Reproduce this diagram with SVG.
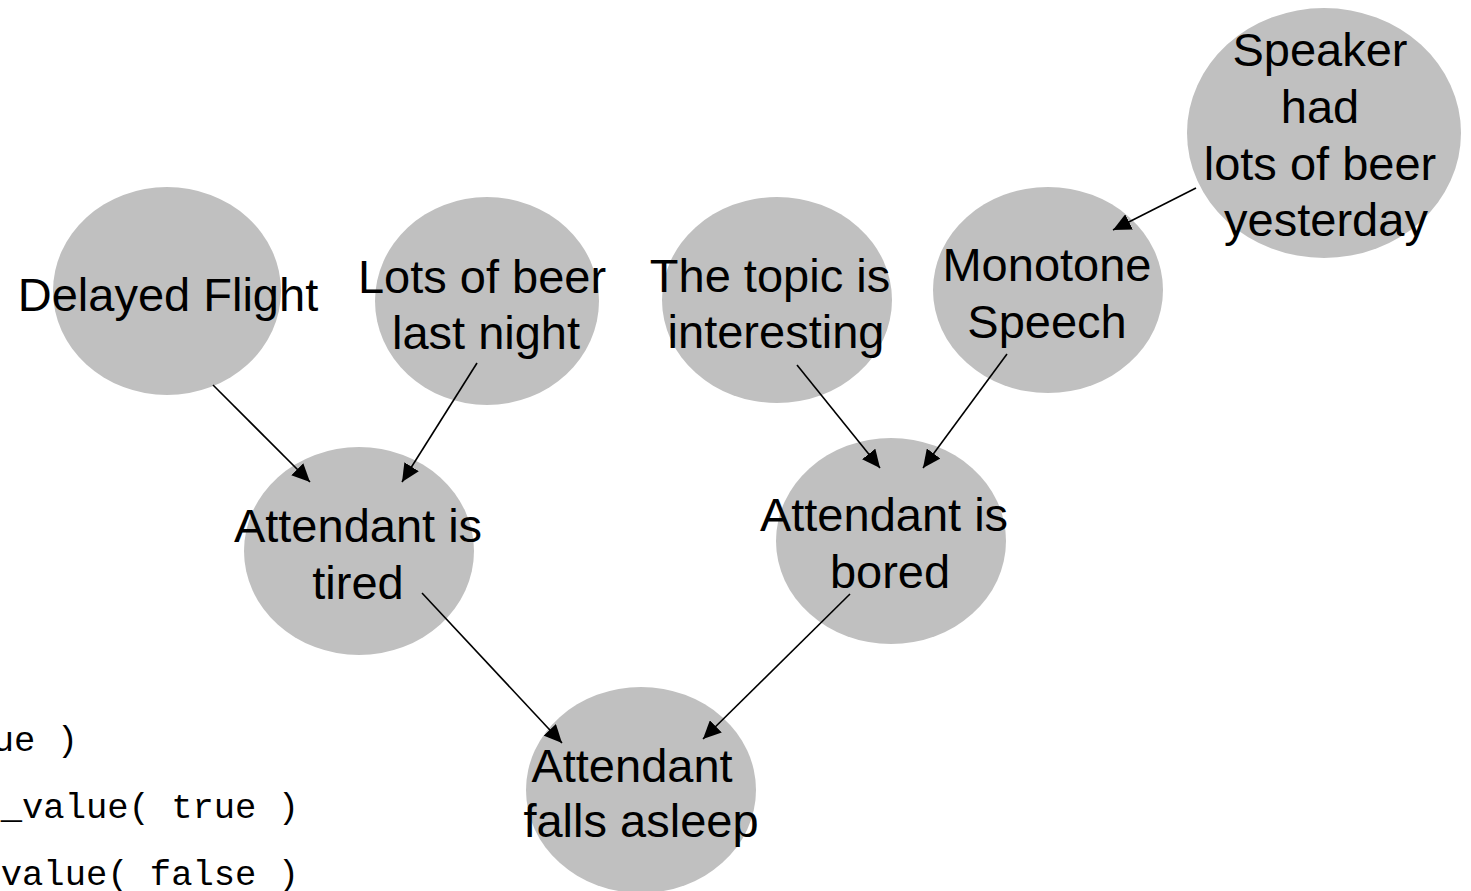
<svg xmlns="http://www.w3.org/2000/svg" width="1471" height="891" viewBox="0 0 1471 891">
<style>
.n{fill:#c0c0c0;stroke:none}
.t{font-family:"Liberation Sans",Arial,sans-serif;font-size:47px;fill:#000;text-anchor:middle}
.c{stroke:#000;stroke-width:1.6;fill:none;marker-end:url(#ah)}
.m{font-family:"Liberation Mono","Courier New",monospace;font-size:35.5px;fill:#000;text-anchor:end}
</style>
<defs>
<marker id="ah" markerUnits="userSpaceOnUse" markerWidth="19" markerHeight="17" refX="18" refY="8.5" orient="auto">
<path d="M0,0 L18,8.5 L0,17 Z" fill="#000"/>
</marker>
</defs>
<rect width="1471" height="891" fill="#fff"/>
<g id="n-delayed"><ellipse class="n" cx="167" cy="291" rx="114" ry="104"/><text class="t" x="168" y="311">Delayed Flight</text></g>
<g id="n-beer"><ellipse class="n" cx="487" cy="301" rx="112" ry="104"/><text class="t" x="482" y="293">Lots of beer</text><text class="t" x="486" y="349">last night</text></g>
<g id="n-topic"><ellipse class="n" cx="777" cy="300" rx="115" ry="103"/><text class="t" x="770" y="292">The topic is</text><text class="t" x="776" y="348">interesting</text></g>
<g id="n-monotone"><ellipse class="n" cx="1048" cy="290" rx="115" ry="103"/><text class="t" x="1047" y="281">Monotone</text><text class="t" x="1047" y="338">Speech</text></g>
<g id="n-speaker"><ellipse class="n" cx="1324" cy="133" rx="137" ry="125"/><text class="t" x="1320" y="66">Speaker</text><text class="t" x="1320" y="123">had</text><text class="t" x="1320" y="180">lots of beer</text><text class="t" x="1326" y="236">yesterday</text></g>
<g id="n-tired"><ellipse class="n" cx="359" cy="551" rx="115" ry="104"/><text class="t" x="358" y="542">Attendant is</text><text class="t" x="358" y="599">tired</text></g>
<g id="n-bored"><ellipse class="n" cx="891" cy="541" rx="115" ry="103"/><text class="t" x="884" y="531">Attendant is</text><text class="t" x="890" y="588">bored</text></g>
<g id="n-asleep"><ellipse class="n" cx="641" cy="790" rx="115" ry="103"/><text class="t" x="632" y="782">Attendant</text><text class="t" x="641" y="837">falls asleep</text></g>
<g id="connectors">
<line class="c" x1="213" y1="385" x2="310" y2="482"/>
<line class="c" x1="477" y1="363" x2="402" y2="482"/>
<line class="c" x1="797" y1="365" x2="880" y2="468"/>
<line class="c" x1="1007" y1="354" x2="923" y2="468"/>
<line class="c" x1="1196" y1="188" x2="1113" y2="230"/>
<line class="c" x1="422" y1="593" x2="562" y2="743"/>
<line class="c" x1="850" y1="594" x2="703" y2="739"/>
</g>
<g id="code">
<text class="m" x="78" y="751">ue )</text>
<text class="m" x="299" y="818">_value( true )</text>
<text class="m" x="299" y="885">value( false )</text>
</g>
</svg>
